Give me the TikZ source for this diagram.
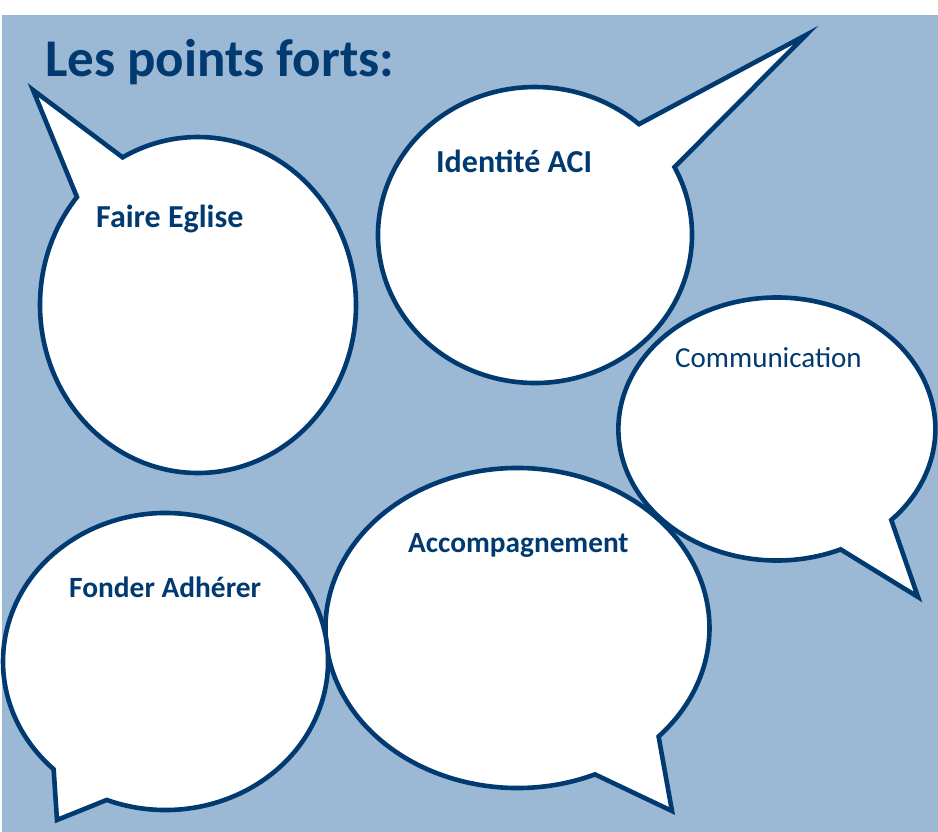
\documentclass[tikz,border=0pt]{standalone}
\usepackage{fontspec}
\setmainfont{Carlito}
\definecolor{dk}{RGB}{0,58,112}
\definecolor{bgblue}{RGB}{155,184,212}
\begin{document}
\begin{tikzpicture}[x=1pt,y=-1pt,
  bubble/.style={draw=dk, line width=4.6pt, fill=white, line join=miter},
  lbl/.style={text=dk, anchor=base west, inner sep=0pt, font=\bfseries},
  lblr/.style={text=dk, anchor=base west, inner sep=0pt}]
\useasboundingbox (0,0) rectangle (938,832);
\fill[bgblue] (2,15) rectangle (938,832);
\node[text=dk, anchor=base west, inner sep=0pt, font=\fontsize{53}{60}\selectfont\bfseries] (title) at (45,77) {Les points forts:};
% Faire Eglise
\draw[bubble] (33,90) -- ([shift={(-140:158 and 168)}]198,305) arc[start angle=-140, end angle=-478.5, x radius=158, y radius=168] -- cycle;
% Identite ACI
\draw[bubble] (806,35) -- ([shift={(-27.3:157 and 148)}]535,235) arc[start angle=-27.3, end angle=311.5, x radius=157, y radius=148] -- cycle;
% Communication
\draw[bubble] (918,597) -- ([shift={(66.3:159.5 and 131.5)}]776.5,429) arc[start angle=66.3, end angle=403.8, x radius=158.5, y radius=131.5] -- cycle;
% Accompagnement
\draw[bubble] (672,811) -- ([shift={(66.2:192 and 160)}]517.5,628) arc[start angle=66.2, end angle=402.7, x radius=192, y radius=160] -- cycle;
% Fonder Adherer
\draw[bubble] (57,820) -- ([shift={(111.2:162.5 and 148.5)}]165.5,661.5) arc[start angle=111.2, end angle=-226.5, x radius=162.5, y radius=148.5] -- cycle;
\node[lbl, font=\fontsize{32}{38}\selectfont\bfseries] (t1) at (96,228) {Faire Eglise};
\node[lbl, font=\fontsize{32}{38}\selectfont\bfseries] (t2) at (436,173) {Identité ACI};
\node[lblr, font=\fontsize{29}{35}\selectfont] (t3) at (675,367) {Communication};
\node[lbl, font=\fontsize{29.3}{35}\selectfont\bfseries] (t4) at (408,552) {Accompagnement};
\node[lbl, font=\fontsize{29.4}{35}\selectfont\bfseries] (t5) at (69,597) {Fonder Adhérer};
\end{tikzpicture}
\end{document}
